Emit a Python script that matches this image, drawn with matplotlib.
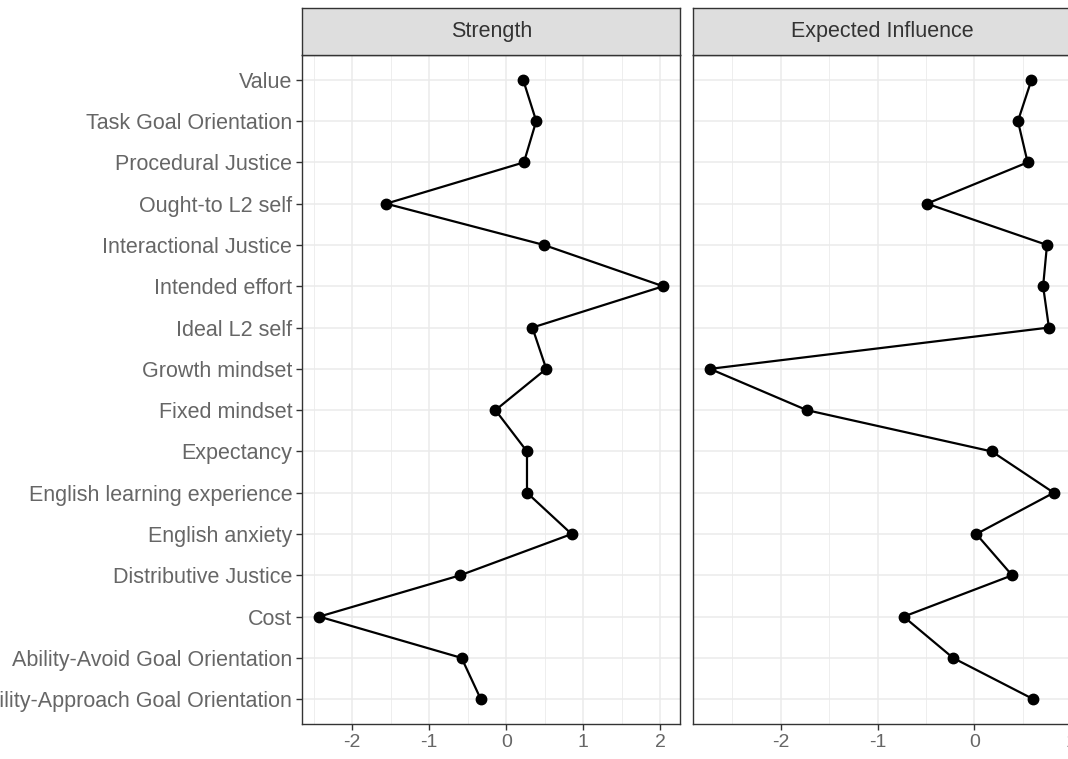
import matplotlib
matplotlib.use('Agg')
import matplotlib.pyplot as plt
from matplotlib.ticker import MultipleLocator

plt.rcParams['font.family'] = ['Liberation Sans', 'DejaVu Sans']
plt.rcParams['axes.unicode_minus'] = False

# categories, bottom to top (ggplot alphabetical order)
nodes = [
    'Ability-Approach Goal Orientation', 'Ability-Avoid Goal Orientation', 'Cost',
    'Distributive Justice', 'English anxiety', 'English learning experience',
    'Expectancy', 'Fixed mindset', 'Growth mindset', 'Ideal L2 self',
    'Intended effort', 'Interactional Justice', 'Ought-to L2 self',
    'Procedural Justice', 'Task Goal Orientation', 'Value',
]
strength = [-0.33, -0.58, -2.43, -0.60, 0.85, 0.27, 0.27, -0.14, 0.52, 0.34,
            2.04, 0.49, -1.56, 0.23, 0.39, 0.22]
expected_influence = [0.61, -0.22, -0.73, 0.39, 0.02, 0.82, 0.18, -1.73, -2.73, 0.77,
                      0.71, 0.75, -0.49, 0.55, 0.45, 0.59]
facets = ['Strength', 'Expected Influence']

W, H = 1068, 759
fig = plt.figure(figsize=(W / 100, H / 100), dpi=100)

GRID = '#EBEBEB'
BORDER = '#333333'
TXT = '#666666'

panels = [
    (302, strength, [-2, -1, 0, 1, 2]),
    (692.8, expected_influence, [-2, -1, 0, 1]),
]
pw = 378.4
top, bot = 55, 724
ypos = list(range(1, len(nodes) + 1))

for i, (x0, vals, ticks) in enumerate(panels):
    ax = fig.add_axes([x0 / W, (H - bot) / H, pw / W, (bot - top) / H])
    lo, hi = min(vals), max(vals)
    pad = 0.05 * (hi - lo)
    ax.set_xlim(lo - pad, hi + pad)
    ax.set_ylim(0.4, len(nodes) + 0.6)
    ax.set_xticks(ticks)
    ax.xaxis.set_minor_locator(MultipleLocator(0.5))
    ax.set_yticks(ypos)
    ax.grid(True, which='major', color=GRID, linewidth=1.1)
    ax.grid(True, which='minor', axis='x', color=GRID, linewidth=0.6)
    ax.set_axisbelow(True)
    for s in ax.spines.values():
        s.set_color(BORDER)
        s.set_linewidth(1.0)
    ax.tick_params(axis='both', which='major', length=4, width=1.0, color=BORDER,
                   labelcolor=TXT, labelsize=14, pad=3.5)
    ax.tick_params(axis='x', which='minor', length=0)
    if i == 0:
        ax.set_yticklabels(nodes)
        ax.tick_params(axis='y', labelsize=15.5, pad=3)
    else:
        ax.tick_params(axis='y', length=0, labelleft=False)

    ax.plot(vals, ypos, color='black', linewidth=1.6, marker='o', markersize=7.5, zorder=3)

    # facet strip
    sax = fig.add_axes([x0 / W, (H - top) / H, pw / W, 47 / H])
    sax.set_facecolor('#DEDEDE')
    sax.set_xticks([])
    sax.set_yticks([])
    for s in sax.spines.values():
        s.set_color(BORDER)
        s.set_linewidth(1.0)
    sax.text(0.5, 0.5, facets[i], ha='center', va='center', fontsize=15.5,
             color='#333333', transform=sax.transAxes)

fig.savefig('out.png', dpi=100)
